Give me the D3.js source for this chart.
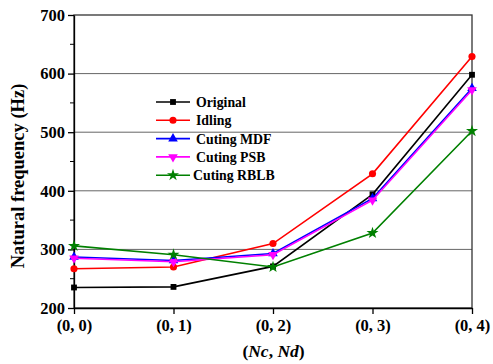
<!DOCTYPE html>
<html><head><meta charset="utf-8">
<script src="https://cdn.jsdelivr.net/npm/d3@7"></script>
<style>body{margin:0;background:#fff}svg{display:block}</style>
</head><body>
<script>
const categories = ["(0, 0)","(0, 1)","(0, 2)","(0, 3)","(0, 4)"];
const seriesNames = ["Original","Idling","Cuting MDF","Cuting PSB","Cuting RBLB"];
const original = [235, 236, 271, 394, 598];
const idling = [267, 270, 310, 429, 629];
const cutingMDF = [287, 281, 293, 387, 575];
const cutingPSB = [285, 279, 291, 384, 572];
const cutingRBLB = [306, 291, 270, 328, 502];
const yTicks = [200, 300, 400, 500, 600, 700];
const colors = ["#000000","#ff0000","#0000ff","#ff00ff","#008000"];
const symbols = [d3.symbolSquare, d3.symbolCircle, d3.symbolTriangle, "tridown", d3.symbolStar];
const allSeries = [original, idling, cutingMDF, cutingPSB, cutingRBLB];

const W = 493, H = 364;
const m = {l:74, r:21, t:15, b:56};
const svg = d3.select("body").append("svg").attr("width", W).attr("height", H);
const x = d3.scalePoint().domain(categories).range([m.l, W - m.r]);
const y = d3.scaleLinear().domain([200, 700]).range([H - m.b, m.t]);
const font = "'Liberation Serif','Times New Roman',serif";

// gridlines
svg.append("g").selectAll("line").data(yTicks.filter(v => v > 200 && v < 700)).join("line")
  .attr("x1", m.l).attr("x2", W - m.r).attr("y1", d => y(d)).attr("y2", d => y(d))
  .attr("stroke", "#666").attr("stroke-width", 1);

// frame
svg.append("rect").attr("x", m.l).attr("y", m.t).attr("width", W - m.r - m.l).attr("height", H - m.b - m.t)
  .attr("fill", "none").attr("stroke", "#333").attr("stroke-width", 1.3);

// y axis
const yAx = svg.append("g").attr("transform", `translate(${m.l},0)`)
  .call(d3.axisLeft(y).tickValues(yTicks).tickSize(6).tickPadding(3).tickSizeOuter(0));
yAx.append("g").selectAll("line").data([250,350,450,550,650]).join("line")
  .attr("x1", -4).attr("x2", 0).attr("y1", d => y(d)).attr("y2", d => y(d)).attr("stroke", "#000");
// x axis
const xAx = svg.append("g").attr("transform", `translate(0,${H - m.b})`)
  .call(d3.axisBottom(x).tickSize(6).tickPadding(5).tickSizeOuter(0));
[yAx, xAx].forEach(a => {
  a.select(".domain").attr("stroke", "#000").attr("stroke-width", 1.3);
  a.selectAll(".tick line").attr("stroke", "#000").attr("stroke-width", 1.3);
  a.selectAll("text").attr("font-family", font).attr("font-weight", "bold").attr("font-size", 16.5).attr("fill", "#000");
});

// axis titles
svg.append("text").attr("transform", `translate(24,176) rotate(-90)`)
  .attr("text-anchor", "middle").attr("font-family", font).attr("font-weight", "bold").attr("font-size", 18.5)
  .text("Natural frequency (Hz)");
const xt = svg.append("text").attr("x", 273.5).attr("y", 357).attr("text-anchor", "middle")
  .attr("font-family", font).attr("font-weight", "bold").attr("font-size", 17.5);
xt.append("tspan").text("(");
xt.append("tspan").attr("font-style", "italic").text("Nc");
xt.append("tspan").text(", ");
xt.append("tspan").attr("font-style", "italic").text("Nd");
xt.append("tspan").text(")");

function markerPath(i, size) {
  if (symbols[i] === "tridown") {
    return d3.symbol().type(d3.symbolTriangle).size(size)();
  }
  return d3.symbol().type(symbols[i]).size(size)();
}
const sizes = [34, 40, 40, 40, 45];
const line = d3.line().x((d, i) => x(categories[i])).y(d => y(d));
allSeries.forEach((vals, si) => {
  const g = svg.append("g");
  g.append("path").datum(vals).attr("d", line).attr("fill", "none").attr("stroke", colors[si]).attr("stroke-width", 1.6);
  g.selectAll("path.m").data(vals).join("path").attr("class", "m")
    .attr("d", markerPath(si, sizes[si]))
    .attr("transform", (d, i) => `translate(${x(categories[i])},${y(d)})${symbols[si] === "tridown" ? " rotate(180)" : ""}`)
    .attr("fill", colors[si]);
});

// legend
const lg = svg.append("g");
seriesNames.forEach((n, i) => {
  const yy = 102 + i * 18.3;
  lg.append("line").attr("x1", 156).attr("x2", 190).attr("y1", yy).attr("y2", yy).attr("stroke", colors[i]).attr("stroke-width", 1.6);
  lg.append("path").attr("d", markerPath(i, sizes[i]))
    .attr("transform", `translate(173,${yy})${symbols[i] === "tridown" ? " rotate(180)" : ""}`).attr("fill", colors[i]);
  lg.append("text").attr("x", i === 4 ? 193 : 196).attr("y", yy + 5).attr("font-family", font).attr("font-weight", "bold")
    .attr("font-size", 13.8).text(n);
});
</script>
</body></html>
